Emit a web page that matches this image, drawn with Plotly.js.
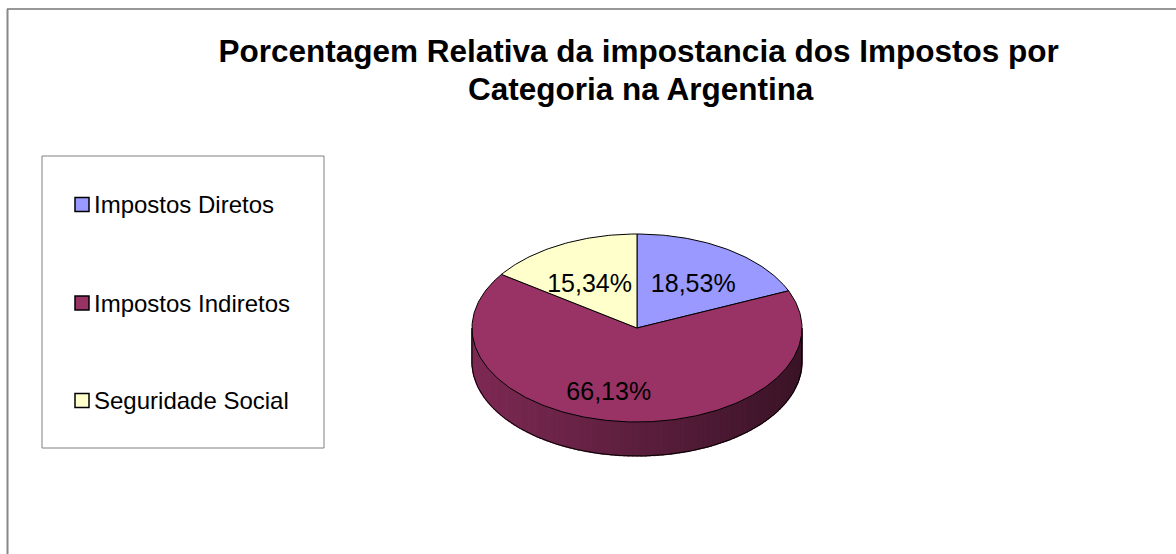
<!DOCTYPE html>
<html>
<head>
<meta charset="utf-8">
<script src="https://cdn.plot.ly/plotly-3.0.1.min.js"></script>
<style>html,body{margin:0;padding:0;background:#fff;}#chart{width:1176px;height:554px;}</style>
</head>
<body>
<div id="chart"></div>
<script>
// ---- data ----
const categories = ['Impostos Diretos', 'Impostos Indiretos', 'Seguridade Social'];
const values = [18.53, 66.13, 15.34];
const valueLabels = ['18,53%', '66,13%', '15,34%'];
const colors = ['#9999FF', '#993366', '#FFFFCC'];
const titleLine1 = 'Porcentagem Relativa da impostancia dos Impostos por';
const titleLine2 = 'Categoria na Argentina';

// ---- layout constants (pixel space of the plot) ----
const W = 1176, H = 554;
const CX = 637, CY = 328, RX = 165, RY = 94, DEPTH = 34;
const FONT = 'Liberation Sans, Arial, sans-serif';
const LABEL_R = 0.62, LABEL_DY = 6;
const labelNudge = [[0, 0], [-18, 2], [0, 3]];

function pt(deg, dy) {
  const r = deg * Math.PI / 180;
  return [CX + RX * Math.sin(r), CY - RY * Math.cos(r) + (dy || 0)];
}
function shade(hex, f) {
  const n = parseInt(hex.slice(1), 16);
  const r = Math.round(((n >> 16) & 255) * f), g = Math.round(((n >> 8) & 255) * f), b = Math.round((n & 255) * f);
  return 'rgb(' + r + ',' + g + ',' + b + ')';
}

const total = values.reduce((a, b) => a + b, 0);
const starts = [], ends = [];
let acc = 0;
values.forEach(v => { starts.push(acc / total * 360); acc += v; ends.push(acc / total * 360); });

const traces = [];
// side walls (front half only: 90..270 degrees)
values.forEach((v, i) => {
  const lo = Math.max(starts[i], 90), hi = Math.min(ends[i], 270);
  if (lo >= hi) return;
  const step = 1.5;
  for (let a = lo; a < hi; a += step) {
    const b = Math.min(a + step, hi);
    const p1 = pt(a), p2 = pt(b), p3 = pt(b, DEPTH), p4 = pt(a, DEPTH);
    const mid = (a + b) / 2 * Math.PI / 180;
    const f = 0.6 - 0.22 * Math.sin(mid);
    const c = shade(colors[i], f);
    traces.push({
      type: 'scatter', mode: 'lines', x: [p1[0], p2[0], p3[0], p4[0], p1[0]], y: [p1[1], p2[1], p3[1], p4[1], p1[1]],
      fill: 'toself', fillcolor: c, line: {width: 1.2, color: c}, hoverinfo: 'skip', showlegend: false
    });
  }
});
// side outline: bottom arc and vertical edges
(function () {
  const xs = [], ys = [];
  let p = pt(90); xs.push(p[0]); ys.push(p[1]);
  for (let a = 90; a <= 270; a += 1) { p = pt(a, DEPTH); xs.push(p[0]); ys.push(p[1]); }
  p = pt(270); xs.push(p[0]); ys.push(p[1]);
  traces.push({type: 'scatter', mode: 'lines', x: xs, y: ys, line: {color: '#000', width: 1}, hoverinfo: 'skip', showlegend: false});
})();
// top faces
values.forEach((v, i) => {
  const xs = [CX], ys = [CY];
  const n = Math.max(2, Math.ceil(ends[i] - starts[i]));
  for (let k = 0; k <= n; k++) {
    const a = starts[i] + (ends[i] - starts[i]) * k / n;
    const p = pt(a); xs.push(p[0]); ys.push(p[1]);
  }
  xs.push(CX); ys.push(CY);
  traces.push({
    type: 'scatter', mode: 'lines', x: xs, y: ys, fill: 'toself', fillcolor: colors[i],
    line: {color: '#000', width: 1}, name: categories[i], hoverinfo: 'skip', showlegend: false
  });
});
// value labels
(function () {
  const lx = [], ly = [];
  values.forEach((v, i) => {
    const m = (starts[i] + ends[i]) / 2;
    const p = pt(m);
    lx.push(CX + (p[0] - CX) * LABEL_R + labelNudge[i][0]);
    ly.push(CY + (p[1] - CY) * LABEL_R + LABEL_DY + labelNudge[i][1]);
  });
  traces.push({type: 'scatter', mode: 'text', x: lx, y: ly, text: valueLabels,
    textfont: {family: FONT, size: 25, color: '#000'}, textposition: 'middle center', hoverinfo: 'skip', showlegend: false});
})();

// legend drawn as shapes + annotations
const LEG = {x0: 42, x1: 324, y0: 156, y1: 448, rowY: [204.5, 303, 400.5], sw: 14, swX: 75, textX: 92};
const shapes = [
  {type: 'line', xref: 'x', yref: 'y', x0: 7, x1: W + 5, y0: 9, y1: 9, line: {color: '#333333', width: 1.2}},
  {type: 'line', xref: 'x', yref: 'y', x0: 7.5, x1: 7.5, y0: 9, y1: H + 5, line: {color: '#888888', width: 2}},
  {type: 'rect', xref: 'x', yref: 'y', x0: LEG.x0, x1: LEG.x1, y0: LEG.y0, y1: LEG.y1, line: {color: '#808080', width: 1}, fillcolor: 'rgba(0,0,0,0)'}
];
const annotations = [];
categories.forEach((c, i) => {
  const yc = LEG.rowY[i];
  shapes.push({type: 'rect', xref: 'x', yref: 'y', x0: LEG.swX, x1: LEG.swX + LEG.sw, y0: yc - LEG.sw / 2, y1: yc + LEG.sw / 2,
    fillcolor: colors[i], line: {color: '#000', width: 1.5}});
  annotations.push({xref: 'x', yref: 'y', x: LEG.textX, y: yc, text: c, showarrow: false, xanchor: 'left', yanchor: 'middle',
    font: {family: FONT, size: 24, color: '#000'}});
});
// second title line
annotations.push({xref: 'x', yref: 'y', x: 641, y: 89, text: titleLine2, showarrow: false, xanchor: 'center', yanchor: 'middle',
  font: {family: FONT, size: 31.5, color: '#000', weight: 'bold'}});

const layout = {
  width: W, height: H, autosize: false,
  margin: {l: 0, r: 0, t: 0, b: 0, pad: 0},
  paper_bgcolor: '#fff', plot_bgcolor: '#fff',
  title: {text: titleLine1, x: 0.543, xanchor: 'center', xref: 'paper', y: 0.927, yanchor: 'top', yref: 'container',
    font: {family: FONT, size: 31.5, color: '#000', weight: 'bold'}},
  xaxis: {range: [0, W], visible: false, fixedrange: true},
  yaxis: {range: [H, 0], visible: false, fixedrange: true},
  shapes: shapes, annotations: annotations,
  showlegend: false, hovermode: false
};
Plotly.newPlot('chart', traces, layout, {staticPlot: true, displayModeBar: false});
</script>
</body>
</html>
